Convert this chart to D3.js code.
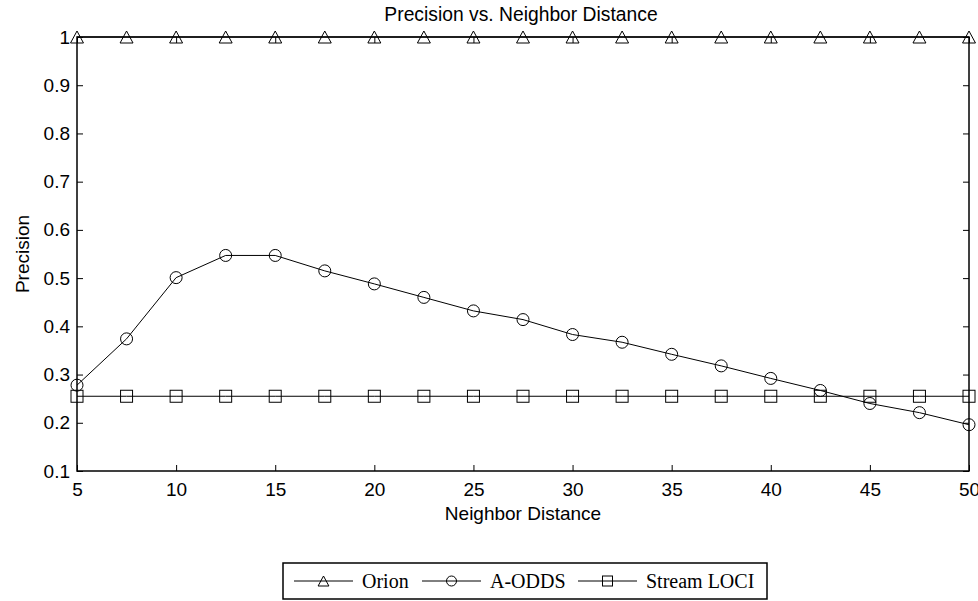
<!DOCTYPE html>
<html><head><meta charset="utf-8">
<script src="https://cdn.jsdelivr.net/npm/d3@7"></script>
<style>body{margin:0;background:#fff}svg{display:block}</style>
</head><body>
<svg id="c" width="978" height="601"></svg>
<script>
const xValues = [5,7.5,10,12.5,15,17.5,20,22.5,25,27.5,30,32.5,35,37.5,40,42.5,45,47.5,50];
const orion = [1,1,1,1,1,1,1,1,1,1,1,1,1,1,1,1,1,1,1];
const aodds = [0.278,0.374,0.501,0.547,0.547,0.515,0.488,0.460,0.432,0.414,0.383,0.367,0.342,0.318,0.292,0.267,0.240,0.221,0.196];
const streamLoci = [0.255,0.255,0.255,0.255,0.255,0.255,0.255,0.255,0.255,0.255,0.255,0.255,0.255,0.255,0.255,0.255,0.255,0.255,0.255];
const xTicks = [5,10,15,20,25,30,35,40,45,50];
const yTicks = [0.1,0.2,0.3,0.4,0.5,0.6,0.7,0.8,0.9,1];
const seriesNames = ["Orion","A-ODDS","Stream LOCI"];
const seriesMarkers = ["triangle","circle","square"];

const svg = d3.select("#c");
const L=77,R=969,T=37,B=471;
const x = d3.scaleLinear().domain([5,50]).range([L,R]);
const y = d3.scaleLinear().domain([0.1,1]).range([B,T]);
const sans = "'Liberation Sans', Arial, sans-serif";
const serif = "'Liberation Serif', 'Times New Roman', serif";
const fs = 19;

function marker(g, type, cx, cy, s){
  if(type==="triangle"){
    g.append("path").attr("d",`M${cx},${cy-s} L${cx+s*1.08},${cy+s} L${cx-s*1.08},${cy+s} Z`)
     .attr("fill","none").attr("stroke","#000").attr("stroke-width",1);
  } else if(type==="circle"){
    g.append("circle").attr("cx",cx).attr("cy",cy).attr("r",s)
     .attr("fill","none").attr("stroke","#000").attr("stroke-width",1);
  } else {
    g.append("rect").attr("x",cx-s).attr("y",cy-s).attr("width",2*s).attr("height",2*s)
     .attr("fill","none").attr("stroke","#000").attr("stroke-width",1);
  }
}

// axes box with inward ticks
const ax = svg.append("g");
ax.append("g").attr("transform",`translate(0,${B})`)
  .call(d3.axisBottom(x).tickValues(xTicks).tickSizeInner(-6).tickSizeOuter(0).tickPadding(12).tickFormat(d3.format("d")))
  .call(g=>{g.select(".domain").remove(); g.selectAll("text").attr("font-family",sans).attr("font-size",fs).attr("fill","#000");});
ax.append("g").attr("transform",`translate(0,${T})`)
  .call(d3.axisTop(x).tickValues(xTicks).tickSizeInner(-6).tickSizeOuter(0).tickFormat(""))
  .call(g=>g.select(".domain").remove());
ax.append("g").attr("transform",`translate(${L},0)`)
  .call(d3.axisLeft(y).tickValues(yTicks).tickSizeInner(-6).tickSizeOuter(0).tickPadding(7).tickFormat(d=>d===1?"1":d3.format(".1f")(d)))
  .call(g=>{g.select(".domain").remove(); g.selectAll("text").attr("font-family",sans).attr("font-size",fs).attr("fill","#000");});
ax.append("g").attr("transform",`translate(${R},0)`)
  .call(d3.axisRight(y).tickValues(yTicks).tickSizeInner(-6).tickSizeOuter(0).tickFormat(""))
  .call(g=>g.select(".domain").remove());
ax.selectAll(".tick line").attr("stroke","#000");
ax.append("rect").attr("x",L).attr("y",T).attr("width",R-L).attr("height",B-T)
  .attr("fill","none").attr("stroke","#000").attr("stroke-width",1.5);

// series
const data = [orion, aodds, streamLoci];
const line = d3.line().x((d,i)=>x(xValues[i])).y(d=>y(d));
const pg = svg.append("g");
data.forEach((vals,k)=>{
  pg.append("path").datum(vals).attr("d",line).attr("fill","none").attr("stroke","#000").attr("stroke-width",1);
  vals.forEach((v,i)=>marker(pg, seriesMarkers[k], x(xValues[i]), y(v), 6));
});

// labels
svg.append("text").attr("x",521).attr("y",21).attr("text-anchor","middle")
  .attr("font-family",sans).attr("font-size",19.3).text("Precision vs. Neighbor Distance");
svg.append("text").attr("x",(L+R)/2).attr("y",520).attr("text-anchor","middle")
  .attr("font-family",sans).attr("font-size",fs).text("Neighbor Distance");
svg.append("text").attr("transform",`translate(29,${(T+B)/2}) rotate(-90)`).attr("text-anchor","middle")
  .attr("font-family",sans).attr("font-size",fs).text("Precision");

// legend
const lg = svg.append("g");
lg.append("rect").attr("x",283).attr("y",563).attr("width",484).attr("height",36)
  .attr("fill","#fff").attr("stroke","#000").attr("stroke-width",1.5);
const legX = [294,422,578];
seriesNames.forEach((n,k)=>{
  const x0 = legX[k], cy = 581;
  lg.append("line").attr("x1",x0).attr("x2",x0+59).attr("y1",cy).attr("y2",cy).attr("stroke","#000");
  marker(lg, seriesMarkers[k], x0+29.5, cy, 5);
  lg.append("text").attr("x",x0+68).attr("y",cy+7).attr("font-family",serif).attr("font-size",20).text(n);
});
</script>
</body></html>
